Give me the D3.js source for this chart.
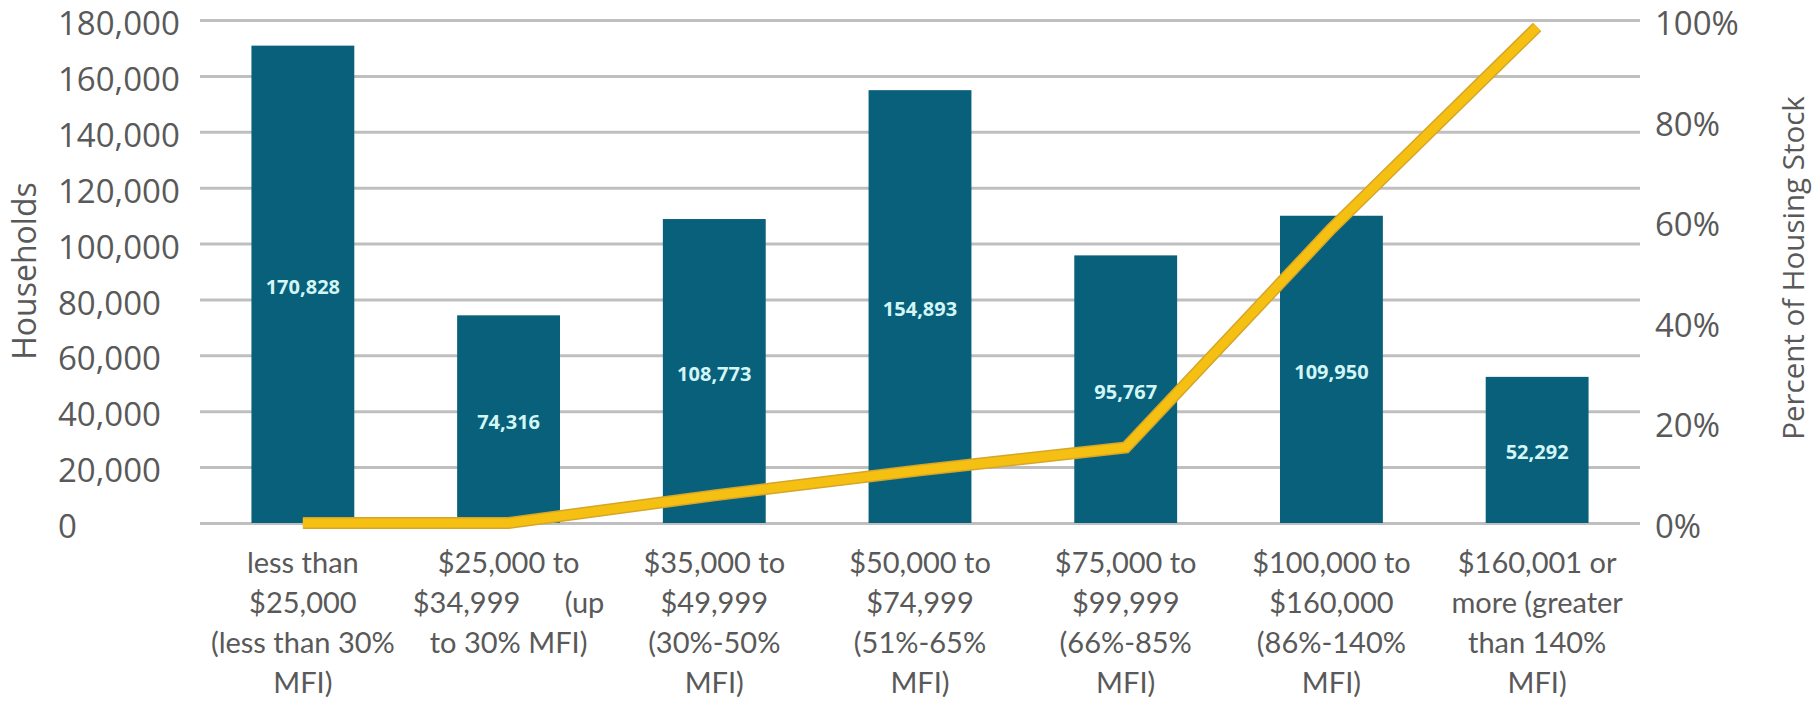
<!DOCTYPE html>
<html>
<head>
<meta charset="utf-8">
<script src="https://cdn.jsdelivr.net/npm/d3@7/dist/d3.min.js"></script>
<style>
  html, body { margin: 0; padding: 0; background: #ffffff; }
  svg { display: block; }
  text { font-family: "Open Sans", "Noto Sans", sans-serif; fill: #595959; }
</style>
</head>
<body>
<svg id="chart" width="1815" height="708"></svg>
<script>
// ---- data ----
const categories = [
  "less than\n$25,000\n(less than 30%\nMFI)",
  "$25,000 to\n$34,999      (up\nto 30% MFI)",
  "$35,000 to\n$49,999\n(30%-50%\nMFI)",
  "$50,000 to\n$74,999\n(51%-65%\nMFI)",
  "$75,000 to\n$99,999\n(66%-85%\nMFI)",
  "$100,000 to\n$160,000\n(86%-140%\nMFI)",
  "$160,001 or\nmore (greater\nthan 140%\nMFI)"
];
const households = [170828, 74316, 108773, 154893, 95767, 109950, 52292];
const housingStockPct = [0, 0, 0.055, 0.105, 0.15, 0.585, 0.986];
const leftTicks = [0, 20000, 40000, 60000, 80000, 100000, 120000, 140000, 160000, 180000];
const rightTicks = [0, 0.2, 0.4, 0.6, 0.8, 1.0];
const leftTitle = "Households";
const rightTitle = "Percent of Housing Stock";

// ---- layout ----
const plotLeft = 200, plotRight = 1640, plotTop = 20, plotBottom = 523;
const svg = d3.select("#chart");

const x = d3.scaleBand().domain(categories).range([plotLeft, plotRight])
  .paddingInner(0.5).paddingOuter(0.25);
const y = d3.scaleLinear().domain([0, 180000]).range([plotBottom, plotTop]);
const y2 = d3.scaleLinear().domain([0, 1]).range([plotBottom, plotTop]);

// gridlines
svg.append("g")
  .attr("transform", `translate(${plotLeft},0)`)
  .call(d3.axisLeft(y).tickValues(leftTicks).tickSize(-(plotRight - plotLeft)).tickFormat(""))
  .call(g => g.select(".domain").remove())
  .call(g => g.selectAll("line").attr("stroke", "#bfbfbf").attr("stroke-width", 3));

// left tick labels (left aligned)
svg.append("g")
  .attr("transform", "translate(58,4)")
  .call(d3.axisRight(y).tickValues(leftTicks).tickSize(0).tickPadding(0).tickFormat(d3.format(",")))
  .call(g => g.select(".domain").remove())
  .call(g => g.selectAll("text")
    .attr("text-anchor", "start")
    .style("font-family", "'Open Sans', sans-serif")
    .style("font-size", "33px")
    .attr("fill", "#595959"));

// right tick labels
svg.append("g")
  .attr("transform", "translate(1655,4)")
  .call(d3.axisRight(y2).tickValues(rightTicks).tickSize(0).tickPadding(0).tickFormat(d3.format(".0%")))
  .call(g => g.select(".domain").remove())
  .call(g => g.selectAll("text")
    .style("font-family", "'Open Sans', sans-serif")
    .style("font-size", "33px")
    .attr("fill", "#595959"));

// axis titles
svg.append("text")
  .attr("transform", `translate(36,271) rotate(-90)`)
  .attr("text-anchor", "middle")
  .style("font-size", "32px")
  .text(leftTitle);

svg.append("text")
  .attr("transform", `translate(1804,268) rotate(-90)`)
  .attr("text-anchor", "middle")
  .style("font-size", "29.5px")
  .text(rightTitle);

// bars
svg.append("g").selectAll("rect")
  .data(households)
  .join("rect")
  .attr("x", (d, i) => x(categories[i]))
  .attr("width", x.bandwidth())
  .attr("y", d => y(d))
  .attr("height", d => y(0) - y(d))
  .attr("fill", "#09607a");

// line
const lineGen = d3.line()
  .x((d, i) => x(categories[i]) + x.bandwidth() / 2)
  .y(d => y2(d));

svg.append("path")
  .datum(housingStockPct)
  .attr("d", lineGen)
  .attr("fill", "none")
  .attr("stroke", "#d4a62a")
  .attr("stroke-width", 12)
  .attr("stroke-linejoin", "miter");
svg.append("path")
  .datum(housingStockPct)
  .attr("d", lineGen)
  .attr("fill", "none")
  .attr("stroke", "#f6c012")
  .attr("stroke-width", 9)
  .attr("stroke-linejoin", "miter");

// data labels
svg.append("g").selectAll("text")
  .data(households)
  .join("text")
  .attr("x", (d, i) => x(categories[i]) + x.bandwidth() / 2)
  .attr("y", d => (y(d) + y(0)) / 2 + 2)
  .attr("text-anchor", "middle")
  .attr("dominant-baseline", "central")
  .style("font-size", "20px")
  .style("font-weight", "bold")
  .style("fill", "#d2f6f6")
  .text(d3.format(","));

// category labels
const catG = svg.append("g");
categories.forEach((c, i) => {
  const t = catG.append("text")
    .attr("x", x(c) + x.bandwidth() / 2)
    .attr("y", 573)
    .attr("text-anchor", "middle")
    .style("font-family", "Lato, sans-serif")
    .style("font-size", "29px")
    .style("white-space", "pre");
  c.split("\n").forEach((line, j) => {
    t.append("tspan")
      .attr("x", x(c) + x.bandwidth() / 2)
      .attr("dy", j === 0 ? 0 : 40)
      .text(line);
  });
});
</script>
</body>
</html>
